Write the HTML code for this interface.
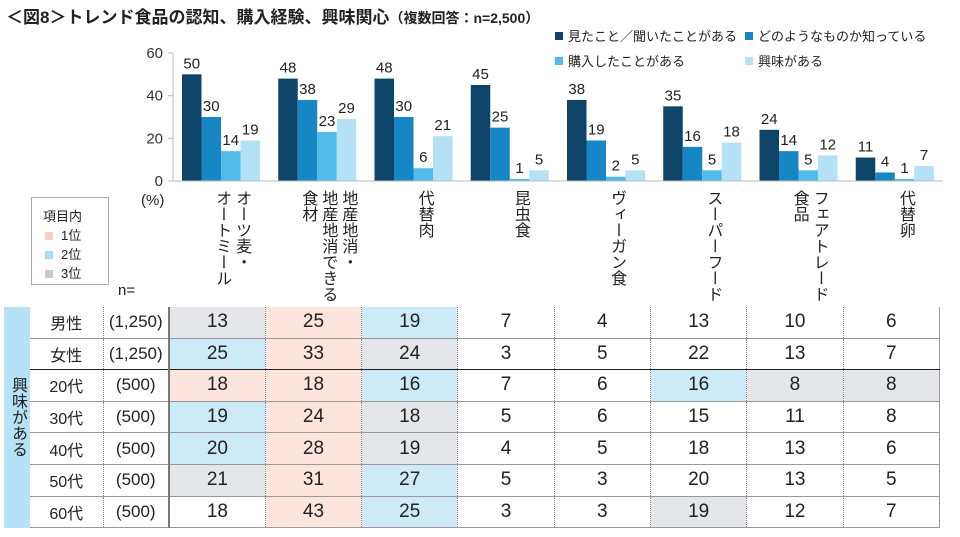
<!DOCTYPE html>
<html><head><meta charset="utf-8"><style>
body{margin:0;background:#fff;font-family:"Liberation Sans","Noto Sans CJK JP",sans-serif;color:#222}
#wrap{position:relative;width:960px;height:537px;overflow:hidden}
.t{position:absolute;white-space:nowrap}
.vert{position:absolute;writing-mode:vertical-rl;font-size:16px;line-height:20px}
table{position:absolute;left:4px;top:307px;border-collapse:collapse;font-size:19px;table-layout:fixed;width:936px}
td{height:30.6px;padding:0;text-align:center;border-bottom:1.5px solid #999;border-left:1px dotted #888;overflow:hidden;white-space:nowrap}
</style></head><body>
<div id="wrap">
<div class="t" style="left:6px;top:3px;font-size:17px;font-weight:bold">＜図8＞トレンド食品の認知、購入経験、興味関心<span style="font-size:14px">（複数回答：n=2,500）</span></div>
<svg id="chart" width="960" height="300" style="position:absolute;left:0;top:0"></svg>
<div class="t" style="left:141px;top:192px;font-size:15px">(%)</div>
<div id="cats"></div>
<div style="position:absolute;left:31px;top:197px;width:76px;height:86px;border:1px solid #aab;font-size:13px">
<div class="t" style="left:11px;top:8px">項目内</div>
<div class="t" style="left:13px;top:27px"><span style="display:inline-block;width:8px;height:8px;background:#f8cfc6;margin-right:8px"></span>1位</div>
<div class="t" style="left:13px;top:46px"><span style="display:inline-block;width:8px;height:8px;background:#a8dcf4;margin-right:8px"></span>2位</div>
<div class="t" style="left:13px;top:65px"><span style="display:inline-block;width:8px;height:8px;background:#c8cbd0;margin-right:8px"></span>3位</div>
</div>
<div class="t" style="left:118px;top:282px;font-size:15px">n=</div>
<table id="tbl">
<colgroup><col style="width:26px"><col style="width:73px"><col style="width:66px"><col span="8" style="width:96.3px"></colgroup>
</table>
</div>
<script>
const categories=["オーツ麦・\nオートミール","地産地消・\n地産地消できる\n食材","代替肉","昆虫食","ヴィーガン食","スーパーフード","フェアトレード\n食品","代替卵"];
const seriesNames=["見たこと／聞いたことがある","どのようなものか知っている","購入したことがある","興味がある"];
const seenValues=[50,48,48,45,38,35,24,11];
const knowValues=[30,38,30,25,19,16,14,4];
const boughtValues=[14,23,6,1,2,5,5,1];
const interestValues=[19,29,21,5,5,18,12,7];
const yTicks=[0,20,40,60];
const rowLabels=["男性","女性","20代","30代","40代","50代","60代"];
const rowN=["(1,250)","(1,250)","(500)","(500)","(500)","(500)","(500)"];
const tableValues=[[13,25,19,7,4,13,10,6],[25,33,24,3,5,22,13,7],[18,18,16,7,6,16,8,8],[19,24,18,5,6,15,11,8],[20,28,19,4,5,18,13,6],[21,31,27,5,3,20,13,5],[18,43,25,3,3,19,12,7]];
const tableRanks=[[3,1,2,0,0,0,0,0],[2,1,3,0,0,0,0,0],[1,1,2,0,0,2,3,3],[2,1,3,0,0,0,0,0],[2,1,3,0,0,0,0,0],[3,1,2,0,0,0,0,0],[0,1,2,0,0,3,0,0]];

const NS="http://www.w3.org/2000/svg";
const svg=document.getElementById('chart');
const x0=173,colW=96.25,barW=19.5,y0=181,yTop=53,yMax=60;
const y=v=>y0-(v/yMax)*(y0-yTop);
const colors=["#0e4468","#1686c4","#52bbea","#b5e1f6"];
const series=[seenValues,knowValues,boughtValues,interestValues];
function mk(tag,attrs){const e=document.createElementNS(NS,tag);for(const k in attrs)e.setAttribute(k,attrs[k]);svg.appendChild(e);return e;}
let ax=mk('line',{x1:x0,y1:yTop,x2:x0,y2:y0,stroke:'#bbb'});

yTicks.forEach(t=>{
  const l=mk('line',{x1:x0-5,x2:x0,y1:y(t),y2:y(t),stroke:'#bbb'});
  
  const tx=mk('text',{x:x0-10,y:y(t)+5,'text-anchor':'end','font-size':15,fill:'#333'});tx.textContent=t;
  
});
series.forEach((vals,s)=>{
  vals.forEach((v,i)=>{
    const bx=x0+i*colW+9+s*barW;
    const r=mk('rect',{x:bx,y:y(v),width:barW,height:y0-y(v),fill:colors[s]});
    
    const tx=mk('text',{x:bx+barW/2,y:y(v)-6,'text-anchor':'middle','font-size':15,fill:'#222'});tx.textContent=v;
    
  });
});
let xa=mk('line',{x1:x0-4,y1:y0,x2:943,y2:y0,stroke:'#bbb'});

const legPos=[[555,37],[745,37],[555,62],[745,62]];
seriesNames.forEach((n,s)=>{
  const r=mk('rect',{x:legPos[s][0],y:legPos[s][1]-5,width:8,height:8,fill:colors[s]});
  
  const tx=mk('text',{x:legPos[s][0]+13,y:legPos[s][1]+4,'font-size':13,fill:'#222'});tx.textContent=n;
  
});
const cats=document.getElementById('cats');
categories.forEach((c,i)=>{
  const d=document.createElement('div');d.className='vert';
  
  
  d.style.top='190px';d.style.left=(x0+i*colW+colW/2+10)+'px';
  d.style.transform='translateX(-50%)';
  d.innerHTML=c.split('\n').join('<br>');
  cats.appendChild(d);
});
const tbl=document.getElementById('tbl');
const rankBg=["#fff","#fde4dd","#cdeaf8","#e4e6e9"];
rowLabels.forEach((lab,r)=>{
  const tr=document.createElement('tr');
  if(r==0){const td=document.createElement('td');td.rowSpan=7;td.style.cssText='background:#b7e1f6;border:none;font-size:16px;writing-mode:vertical-rl;vertical-align:middle;line-height:26px';td.textContent='興味がある';
    tr.appendChild(td);}
  const a=document.createElement('td');a.style.cssText='font-size:16px;border-left:none'+(r==1?';border-bottom:1.5px solid #222':'');a.textContent=lab;
  tr.appendChild(a);
  const b=document.createElement('td');b.style.cssText='font-size:17px'+(r==1?';border-bottom:1.5px solid #222':'');b.textContent=rowN[r];
  tr.appendChild(b);
  tableValues[r].forEach((v,c)=>{
    const td=document.createElement('td');td.style.background=rankBg[tableRanks[r][c]];
    if(c==0)td.style.borderLeft='2px solid #777';
    if(c==7)td.style.borderRight='1.5px solid #999';
    if(r==1)td.style.borderBottom='1.5px solid #222';
    td.textContent=v;
    
    
    tr.appendChild(td);
  });
  tbl.appendChild(tr);
});
</script>
</body></html>
